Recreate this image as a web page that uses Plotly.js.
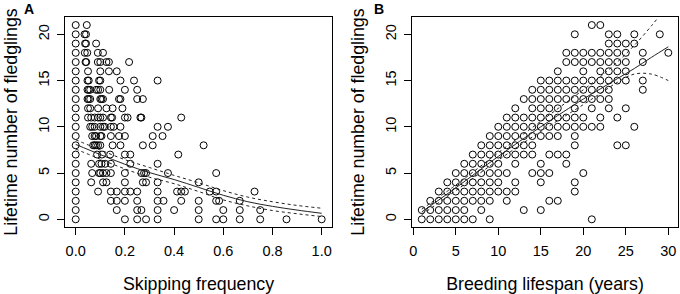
<!DOCTYPE html>
<html><head><meta charset="utf-8">
<script src="https://cdn.plot.ly/plotly-3.0.1.min.js"></script>
<style>html,body{margin:0;padding:0;background:#fff}#chart{width:680px;height:294px}</style>
</head><body><div id="chart"></div>
<script>
// ---------- Panel A: skipping frequency vs lifetime fledglings ----------
const skipFreq = [
  0, 0.045,                                   // 21
  0, 0.036, 0.042,                            // 20
  0, 0.038, 0.042, 0.083,                     // 19
  0, 0.037, 0.047, 0.09, 0.111,               // 18
  0, 0.04, 0.043, 0.09, 0.1, 0.125, 0.135, 0.217, // 17
  0, 0.05, 0.1, 0.135, 0.167,                 // 16
  0, 0.048, 0.053, 0.095, 0.1, 0.182, 0.237, 0.333, // 15
  0, 0.048, 0.053, 0.059, 0.083, 0.091, 0.1, 0.136, 0.2, 0.25, // 14
  0, 0.048, 0.053, 0.059, 0.1, 0.105, 0.111, 0.176, 0.182, 0.25, 0.273, // 13
  0, 0.05, 0.059, 0.091, 0.125, 0.15, 0.19,   // 12
  0, 0.05, 0.063, 0.077, 0.091, 0.1, 0.111, 0.143, 0.148, 0.2, 0.211, 0.263, 0.267, 0.429, // 11
  0, 0.059, 0.067, 0.077, 0.1, 0.111, 0.118, 0.143, 0.154, 0.182, 0.333, 0.375, // 10
  0, 0.067, 0.077, 0.083, 0.1, 0.105, 0.143, 0.176, 0.2, 0.313, 0.353, // 9
  0, 0.071, 0.077, 0.083, 0.091, 0.1, 0.15, 0.182, 0.273, 0.313, 0.52, // 8
  0, 0.087, 0.107, 0.14, 0.2, 0.222, 0.417,   // 7
  0, 0.063, 0.095, 0.105, 0.12, 0.143, 0.222, 0.333, // 6
  0, 0.067, 0.095, 0.1, 0.111, 0.125, 0.143, 0.2, 0.267, 0.278, 0.286, 0.375, 0.571, // 5
  0, 0.063, 0.111, 0.125, 0.2, 0.273, 0.286, 0.333, 0.5, // 4
  0, 0.091, 0.143, 0.167, 0.2, 0.222, 0.25, 0.333, 0.412, 0.429, 0.444, 0.545, 0.571, 0.727, // 3
  0, 0.143, 0.167, 0.2, 0.25, 0.333, 0.357, 0.429, 0.5, 0.571, 0.583, 0.667, // 2
  0, 0.167, 0.25, 0.267, 0.333, 0.4, 0.5, 0.6, 0.667, 0.75, // 1
  0, 0.2, 0.25, 0.286, 0.333, 0.5, 0.571, 0.6, 0.667, 0.75, 0.857, 1.0 // 0
];
const fledglingsA = [
  21,21,
  20,20,20,
  19,19,19,19,
  18,18,18,18,18,
  17,17,17,17,17,17,17,17,
  16,16,16,16,16,
  15,15,15,15,15,15,15,15,
  14,14,14,14,14,14,14,14,14,14,
  13,13,13,13,13,13,13,13,13,13,13,
  12,12,12,12,12,12,12,
  11,11,11,11,11,11,11,11,11,11,11,11,11,11,
  10,10,10,10,10,10,10,10,10,10,10,10,
  9,9,9,9,9,9,9,9,9,9,9,
  8,8,8,8,8,8,8,8,8,8,8,
  7,7,7,7,7,7,7,
  6,6,6,6,6,6,6,6,
  5,5,5,5,5,5,5,5,5,5,5,5,5,
  4,4,4,4,4,4,4,4,4,
  3,3,3,3,3,3,3,3,3,3,3,3,3,3,
  2,2,2,2,2,2,2,2,2,2,2,2,
  1,1,1,1,1,1,1,1,1,1,
  0,0,0,0,0,0,0,0,0,0,0,0
];
// fitted curve and confidence band
const fitSkipX   = [0, 0.1, 0.2, 0.3, 0.4, 0.5, 0.6, 0.7, 0.8, 0.9, 1.0];
const fitSkipY   = [8.1, 7.0, 5.95, 5.05, 4.3, 3.45, 2.6, 1.9, 1.4, 1.0, 0.65];
const fitSkipHi  = [8.6, 7.5, 6.45, 5.6, 4.75, 3.95, 3.1, 2.4, 1.9, 1.5, 1.2];
const fitSkipLo  = [7.6, 6.5, 5.45, 4.55, 3.85, 3.0, 2.1, 1.45, 0.95, 0.6, 0.3];

// ---------- Panel B: breeding lifespan vs lifetime fledglings ----------
const lifespanB = [
  21, 22,
  19, 23, 24, 26, 29,
  23, 24, 25, 26,
  18, 19, 20, 21, 22, 23, 24, 25, 27, 30,
  18, 19, 20, 21, 22, 23, 24, 25, 27,
  17, 20, 22, 23, 24, 25,
  15, 16, 17, 18, 19, 20, 21, 22, 23, 24, 25, 27,
  14, 15, 16, 17, 18, 19, 20, 21, 22, 23, 27,
  13, 14, 15, 16, 17, 18, 19, 20, 21, 22, 23,
  12, 14, 15, 16, 17, 19, 21, 23, 25,
  11, 12, 13, 14, 15, 16, 17, 18, 19, 20, 22, 24,
  10, 11, 12, 13, 14, 15, 16, 17, 18, 19, 20, 21, 22, 26,
  9, 10, 11, 12, 13, 14, 15, 16, 17, 19,
  8, 9, 10, 11, 12, 13, 14, 19, 24, 25,
  7, 8, 9, 10, 11, 12, 13, 14, 16, 17, 18,
  6, 7, 8, 9, 10, 12, 15, 18,
  5, 6, 7, 8, 9, 10, 11, 14, 15, 16, 20,
  4, 5, 6, 7, 8, 9, 10, 12, 15, 19,
  3, 4, 5, 6, 7, 8, 9, 10, 11, 12, 19,
  2, 3, 4, 5, 6, 7, 8, 9, 11, 16, 17,
  1, 2, 3, 4, 5, 6, 8, 13, 15,
  1, 2, 3, 4, 5, 6, 7, 9, 21
];
const fledglingsB = [
  21,21,
  20,20,20,20,20,
  19,19,19,19,
  18,18,18,18,18,18,18,18,18,18,
  17,17,17,17,17,17,17,17,17,
  16,16,16,16,16,16,
  15,15,15,15,15,15,15,15,15,15,15,15,
  14,14,14,14,14,14,14,14,14,14,14,
  13,13,13,13,13,13,13,13,13,13,13,
  12,12,12,12,12,12,12,12,12,
  11,11,11,11,11,11,11,11,11,11,11,11,
  10,10,10,10,10,10,10,10,10,10,10,10,10,10,
  9,9,9,9,9,9,9,9,9,9,
  8,8,8,8,8,8,8,8,8,8,
  7,7,7,7,7,7,7,7,7,7,7,
  6,6,6,6,6,6,6,6,
  5,5,5,5,5,5,5,5,5,5,5,
  4,4,4,4,4,4,4,4,4,4,
  3,3,3,3,3,3,3,3,3,3,3,
  2,2,2,2,2,2,2,2,2,2,2,
  1,1,1,1,1,1,1,1,1,
  0,0,0,0,0,0,0,0,0
];
const fitLifeX  = [1, 5, 10, 15, 20, 22, 24, 26, 28, 30];
const fitLifeY  = [0.8, 3.4, 6.8, 10.0, 13.0, 14.1, 15.2, 16.3, 17.5, 18.65];
const fitLifeHi = [1.1, 3.7, 7.2, 10.6, 14.0, 15.4, 17.0, 18.8, 20.9, 23.2];
const fitLifeLo = [0.5, 3.1, 6.4, 9.5, 12.4, 13.6, 14.8, 15.7, 15.7, 15.0];

// tick labels
const skipTicks = [0, 0.2, 0.4, 0.6, 0.8, 1.0];
const skipTickText = ['0.0', '0.2', '0.4', '0.6', '0.8', '1.0'];
const lifeTicks = [0, 5, 10, 15, 20, 25, 30];
const countTicks = [0, 5, 10, 15, 20];

const FONT = 'Arial, "Liberation Sans", Helvetica, sans-serif';
const markerStyle = {symbol: 'circle-open', size: 7, color: '#000', line: {width: 1, color: '#000'}};
const solid = {color: '#222', width: 1, shape: 'spline'};
const dashed = {color: '#222', width: 1, dash: '3px,3px', shape: 'spline'};

const traces = [
  {x: skipFreq, y: fledglingsA, type: 'scatter', mode: 'markers', marker: markerStyle, xaxis: 'x', yaxis: 'y', hoverinfo: 'skip'},
  {x: fitSkipX, y: fitSkipY, type: 'scatter', mode: 'lines', line: solid, xaxis: 'x', yaxis: 'y'},
  {x: fitSkipX, y: fitSkipHi, type: 'scatter', mode: 'lines', line: dashed, xaxis: 'x', yaxis: 'y'},
  {x: fitSkipX, y: fitSkipLo, type: 'scatter', mode: 'lines', line: dashed, xaxis: 'x', yaxis: 'y'},
  {x: lifespanB, y: fledglingsB, type: 'scatter', mode: 'markers', marker: markerStyle, xaxis: 'x2', yaxis: 'y2', hoverinfo: 'skip'},
  {x: fitLifeX, y: fitLifeY, type: 'scatter', mode: 'lines', line: solid, xaxis: 'x2', yaxis: 'y2'},
  {x: fitLifeX, y: fitLifeHi, type: 'scatter', mode: 'lines', line: dashed, xaxis: 'x2', yaxis: 'y2'},
  {x: fitLifeX, y: fitLifeLo, type: 'scatter', mode: 'lines', line: dashed, xaxis: 'x2', yaxis: 'y2'}
];

const axBase = {
  showline: true, mirror: true, linecolor: '#000', linewidth: 1,
  ticks: 'outside', ticklen: 7, tickwidth: 1, tickcolor: '#000',
  showgrid: false, zeroline: false, fixedrange: true,
  tickfont: {family: FONT, size: 14.5, color: '#000'}
};
const titleFont = {family: FONT, size: 17.8, color: '#000'};

const layout = {
  width: 680, height: 294,
  margin: {l: 65, r: 2, t: 17, b: 67},
  paper_bgcolor: '#fff', plot_bgcolor: '#fff',
  showlegend: false,
  font: {family: FONT, color: '#000'},
  xaxis: Object.assign({}, axBase, {
    domain: [0, 0.4356], range: [-0.0435, 1.042], anchor: 'y',
    tickvals: skipTicks, ticktext: skipTickText, ticklabelstandoff: 4,
    title: {text: 'Skipping frequency', font: titleFont, standoff: 19}
  }),
  yaxis: Object.assign({}, axBase, {
    domain: [0, 1], range: [-0.83, 21.87], anchor: 'x',
    tickvals: countTicks, tickangle: -90, ticklabelstandoff: 2,
    title: {text: 'Lifetime number of fledglings', font: titleFont, standoff: 13}
  }),
  xaxis2: Object.assign({}, axBase, {
    domain: [0.566, 1], range: [-0.153, 31.14], anchor: 'y2',
    tickvals: lifeTicks, ticklabelstandoff: 4,
    title: {text: 'Breeding lifespan (years)', font: titleFont, standoff: 19}
  }),
  yaxis2: Object.assign({}, axBase, {
    domain: [0, 1], range: [-0.83, 21.87], anchor: 'x2',
    tickvals: countTicks, tickangle: -90, ticklabelstandoff: 2,
    title: {text: 'Lifetime number of fledglings', font: titleFont, standoff: 13}
  }),
  annotations: [
    {text: '<b>A</b>', xref: 'paper', yref: 'paper', x: -0.059, y: 1.0, xanchor: 'center', yanchor: 'bottom', yshift: -2, showarrow: false, font: {family: FONT, size: 14, color: '#000'}},
    {text: '<b>B</b>', xref: 'paper', yref: 'paper', x: 0.512, y: 1.0, xanchor: 'center', yanchor: 'bottom', yshift: -2, showarrow: false, font: {family: FONT, size: 14, color: '#000'}}
  ]
};

Plotly.newPlot('chart', traces, layout, {displayModeBar: false, staticPlot: true});
</script></body></html>
